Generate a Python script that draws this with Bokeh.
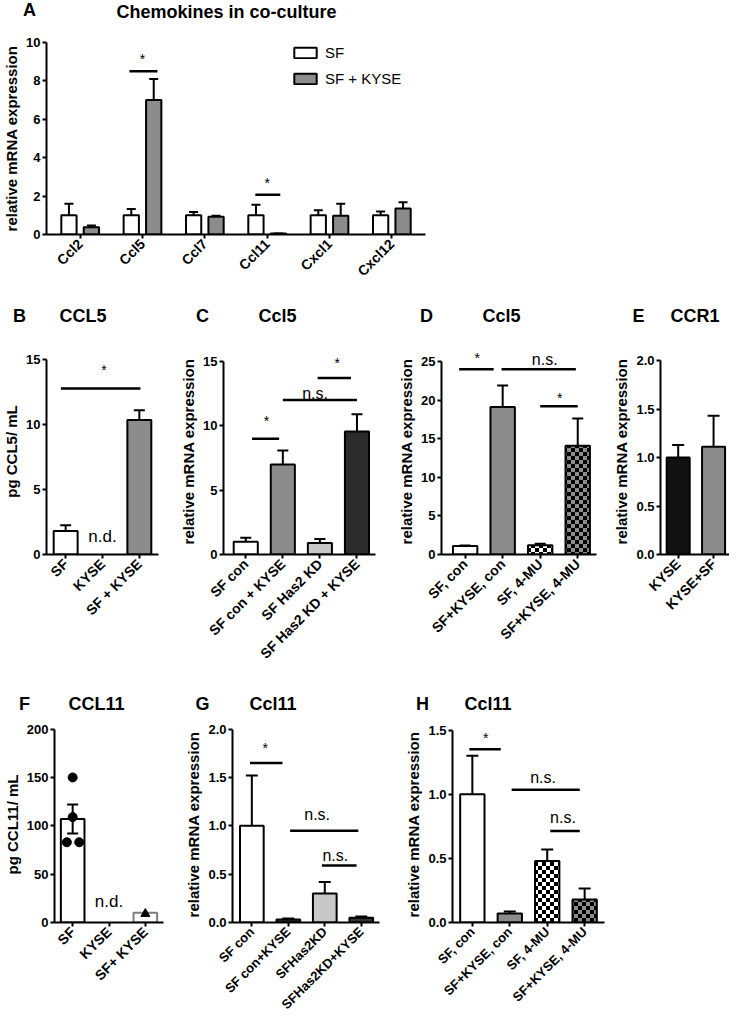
import math
import zlib
import struct
import base64
import numpy as np
from bokeh.plotting import figure
from bokeh.layouts import row, column
from bokeh.models import (Range1d, FixedTicker, Whisker, TeeHead, Label, Legend, LegendItem,
                          ColumnDataSource, ImageURLTexture, NumeralTickFormatter)
from bokeh.core.properties import field
from bokeh.embed import file_html
from bokeh.resources import INLINE

FONT = "Liberation Sans"

# ---------------- data ----------------
panel_letters = ["A", "B", "C", "D", "E", "F", "G", "H"]
panel_titles = ["Chemokines in co-culture", "CCL5", "Ccl5", "Ccl5", "CCR1", "CCL11", "Ccl11", "Ccl11"]

# A: chemokines in co-culture
A_genes = ["Ccl2", "Ccl5", "Ccl7", "Ccl11", "Cxcl1", "Cxcl12"]
A_series = ["SF", "SF + KYSE"]
A_sf_mean = [1.0, 1.0, 1.0, 1.0, 1.0, 1.0]
A_sf_sem = [0.6, 0.33, 0.17, 0.55, 0.26, 0.2]
A_kyse_mean = [0.38, 7.0, 0.93, 0.05, 0.98, 1.35]
A_kyse_sem = [0.09, 1.1, 0.05, 0.0, 0.62, 0.33]
A_sig_x0 = [0.79, 2.81]
A_sig_x1 = [1.24, 3.21]
A_sig_y = [8.5, 2.07]
A_sig_text = ["*", "*"]
A_sig_tx = [1.0, 3.0]
A_sig_ty = [9.3, 2.85]

# B: CCL5 protein
B_groups = ["SF", "KYSE", "SF + KYSE"]
B_mean = [1.8, float("nan"), 10.35]
B_sem = [0.45, float("nan"), 0.75]
B_sig_x0 = [-0.13]
B_sig_x1 = [2.03]
B_sig_y = [12.77]
B_sig_text = ["*"]
B_sig_tx = [1.04]
B_sig_ty = [14.4]
B_nd_x = [1.0]
B_nd_y = [1.4]

# C: Ccl5 mRNA, Has2 KD
C_groups = ["SF con", "SF con + KYSE", "SF Has2 KD", "SF Has2 KD + KYSE"]
C_mean = [1.0, 7.0, 0.9, 9.55]
C_sem = [0.3, 1.08, 0.3, 1.35]
C_sig_x0 = [0.17, 1.0, 1.94]
C_sig_x1 = [0.9, 3.0, 2.84]
C_sig_y = [9.0, 12.0, 13.7]
C_sig_text = ["*", "n.s.", "*"]
C_sig_tx = [0.56, 1.87, 2.47]
C_sig_ty = [10.6, 12.5, 15.1]

# D: Ccl5 mRNA, 4-MU
D_groups = ["SF, con", "SF+KYSE, con", "SF, 4-MU", "SF+KYSE, 4-MU"]
D_mean = [1.1, 19.1, 1.2, 14.1]
D_sem = [0.05, 2.8, 0.2, 3.5]
D_sig_x0 = [-0.16, 0.97, 2.0]
D_sig_x1 = [0.76, 2.95, 3.0]
D_sig_y = [24.0, 24.0, 19.2]
D_sig_text = ["*", "n.s.", "*"]
D_sig_tx = [0.32, 2.12, 2.52]
D_sig_ty = [25.8, 25.3, 20.6]

# E: CCR1
E_groups = ["KYSE", "KYSE+SF"]
E_mean = [1.0, 1.11]
E_sem = [0.13, 0.32]

# F: CCL11 protein
F_groups = ["SF", "KYSE", "SF+ KYSE"]
F_mean = [107.0, float("nan"), 10.0]
F_sem = [15.0, float("nan"), float("nan")]
F_pts_sf = [150.0, 109.0, 83.0, 83.0]
F_pts_sf_jitter = [0.0, 0.0, -0.16, 0.18]
F_pts_kyse = [9.0]
F_nd_x = [1.0]
F_nd_y = [22.0]

# G: Ccl11 mRNA, Has2 KD
G_groups = ["SF con", "SF con+KYSE", "SFHas2KD", "SFHas2KD+KYSE"]
G_mean = [1.0, 0.03, 0.3, 0.05]
G_sem = [0.52, 0.012, 0.12, 0.012]
G_sig_x0 = [-0.05, 1.05, 1.92]
G_sig_x1 = [0.84, 2.92, 2.87]
G_sig_y = [1.65, 0.95, 0.59]
G_sig_text = ["*", "n.s.", "n.s."]
G_sig_tx = [0.37, 1.79, 2.29]
G_sig_ty = [1.84, 1.12, 0.69]

# H: Ccl11 mRNA, 4-MU
H_groups = ["SF, con", "SF+KYSE, con", "SF, 4-MU", "SF+KYSE, 4-MU"]
H_mean = [1.0, 0.07, 0.48, 0.18]
H_sem = [0.3, 0.015, 0.09, 0.085]
H_sig_x0 = [-0.08, 1.05, 2.08]
H_sig_x1 = [0.76, 2.87, 2.87]
H_sig_y = [1.35, 1.035, 0.714]
H_sig_text = ["*", "n.s.", "n.s."]
H_sig_tx = [0.36, 1.89, 2.42]
H_sig_ty = [1.46, 1.13, 0.82]

# ---------------- styles ----------------
GRAY = "#8c8c8c"
LIGHT = "#c8c8c8"
DARK = "#2b2b2b"


def checker_png(cell=4):
    """Tiny transparent/black checkerboard tile as a PNG data URL."""
    n = 2 * cell
    raw = b""
    for yy in range(n):
        line = bytearray([0])
        for xx in range(n):
            on = ((xx // cell) + (yy // cell)) % 2 == 0
            line += bytes([0, 0, 0, 255]) if on else bytes([0, 0, 0, 0])
        raw += bytes(line)

    def chunk(t, d):
        c = struct.pack(">I", len(d)) + t + d
        return c + struct.pack(">I", zlib.crc32(t + d) & 0xffffffff)

    png = (b"\x89PNG\r\n\x1a\n"
           + chunk(b"IHDR", struct.pack(">IIBBBBB", n, n, 8, 6, 0, 0, 0))
           + chunk(b"IDAT", zlib.compress(raw))
           + chunk(b"IEND", b""))
    return "data:image/png;base64," + base64.b64encode(png).decode()


CHECKER = ImageURLTexture(url=checker_png(4))


def base_fig(w, h, l, r, t, b, labels, pad_l, pad_r, ytop, ymax, ystep, ylabel, yfmt,
             xfont="14px"):
    n = len(labels)
    p = figure(width=w, height=h, x_range=Range1d(-pad_l, n - 1 + pad_r),
               y_range=Range1d(0, ytop), output_backend="svg", toolbar_location=None,
               title=None, min_border_left=l, min_border_right=r, min_border_top=t,
               min_border_bottom=b)
    p.grid.visible = False
    p.outline_line_color = None
    p.background_fill_color = "white"
    p.border_fill_color = "white"
    nt = int(round(ymax / ystep))
    p.yaxis.ticker = FixedTicker(ticks=[round(k * ystep, 6) for k in range(nt + 1)])
    p.yaxis.formatter = NumeralTickFormatter(format=yfmt)
    p.yaxis.bounds = (0, ymax)
    p.xaxis.ticker = FixedTicker(ticks=list(range(n)))
    p.xaxis.major_label_overrides = {i: lab for i, lab in enumerate(labels)}
    p.xaxis.major_label_orientation = math.pi / 4
    for ax in (p.xaxis[0], p.yaxis[0]):
        ax.axis_line_width = 2
        ax.axis_line_color = "black"
        ax.major_tick_line_width = 2
        ax.major_tick_line_color = "black"
        ax.major_tick_out = 4
        ax.major_tick_in = 0
        ax.minor_tick_line_color = None
        ax.major_label_text_font = FONT
        ax.major_label_text_font_style = "bold"
        ax.major_label_text_color = "black"
    p.yaxis.major_label_text_font_size = "13px"
    p.xaxis.major_label_text_font_size = xfont
    p.yaxis.major_label_standoff = 2
    p.xaxis.major_label_standoff = 3
    p.yaxis.axis_label = ylabel
    p.yaxis.axis_label_text_font = FONT
    p.yaxis.axis_label_text_font_style = "bold"
    p.yaxis.axis_label_text_font_size = "15px"
    p.yaxis.axis_label_text_color = "black"
    p.yaxis.axis_label_standoff = 3
    return p


def strip(w, h, items):
    """Row of panel letters / titles; items: (text, x, y, align)."""
    s = figure(width=w, height=h, x_range=Range1d(0, w), y_range=Range1d(0, h),
               output_backend="svg", toolbar_location=None, title=None,
               x_axis_type=None, y_axis_type=None,
               min_border_left=0, min_border_right=0, min_border_top=0, min_border_bottom=0)
    s.outline_line_color = None
    s.background_fill_color = "white"
    s.border_fill_color = "white"
    for text, x, y, align in items:
        s.add_layout(Label(x=x, y=y, x_units="screen", y_units="screen", text=text,
                           text_font=FONT, text_font_style="bold", text_font_size="18px",
                           text_align=align, text_baseline="middle", text_color="black"))
    return s


def whiskers(p, xs, means, sems, cap, both=False):
    ok = [i for i in range(len(means)) if not (math.isnan(means[i]) or math.isnan(sems[i]))]
    src = ColumnDataSource(dict(
        base=[float(xs[i]) for i in ok],
        lower=[means[i] - (sems[i] if both else 0.0) for i in ok],
        upper=[means[i] + sems[i] for i in ok]))
    w = Whisker(base="base", lower="lower", upper="upper", source=src, line_width=2,
                line_color="black", level="annotation",
                upper_head=TeeHead(size=cap, line_width=2, line_color="black"),
                lower_head=TeeHead(size=cap, line_width=2, line_color="black") if both else None)
    p.add_layout(w)


def bars(p, means, sems, fills, lines=None, hatches=None, width=0.65, cap=11, both=False):
    n = len(means)
    xs = list(range(n))
    src = ColumnDataSource(dict(x=xs, top=means, fill=fills,
                                line=lines or ["black"] * n,
                                hatch=hatches or [" "] * n))
    p.vbar(x="x", top="top", bottom=0, width=width, source=src,
           fill_color="fill", line_color="line", line_width=2,
           hatch_pattern=field("hatch"), hatch_color="black", hatch_scale=8,
           hatch_alpha=1.0, hatch_extra={"checker": CHECKER})
    whiskers(p, xs, means, sems, cap, both)


def sig(p, x0, x1, y, texts, tx, ty):
    p.segment(x0=x0, y0=y, x1=x1, y1=y, line_width=2.5, line_color="black")
    for t, a, b in zip(texts, tx, ty):
        star = t == "*"
        p.add_layout(Label(x=a, y=b, text=t, text_font=FONT,
                           text_font_size="14px" if star else "16px",
                           text_align="center", text_baseline="middle",
                           y_offset=-3 if star else 0, text_color="black"))


def nd(p, xs, ys, size="17px"):
    for a, b in zip(xs, ys):
        p.add_layout(Label(x=a, y=b, text="n.d.", text_font=FONT, text_font_size=size,
                           text_align="center", text_baseline="middle", text_color="black"))


L = panel_letters
T = panel_titles

# ---------------- row 1 ----------------
s1 = strip(729, 28, [(L[0], 29, 19, "center"), (T[0], 226, 17, "center")])

pA = base_fig(432, 259, 41, 7, 14, 52, A_genes, 0.54, 0.54, 10, 10, 2,
              "relative mRNA expression", "0")
idx = np.arange(len(A_genes))
xs_sf = idx - 0.18
xs_ky = idx + 0.18
r_sf = pA.vbar(x=xs_sf, top=A_sf_mean, bottom=0, width=0.245, fill_color="white",
               line_color="black", line_width=2)
r_ky = pA.vbar(x=xs_ky, top=A_kyse_mean, bottom=0, width=0.245, fill_color=GRAY,
               line_color="black", line_width=2)
whiskers(pA, xs_sf, A_sf_mean, A_sf_sem, 9)
whiskers(pA, xs_ky, A_kyse_mean, A_kyse_sem, 9)
sig(pA, A_sig_x0, A_sig_x1, A_sig_y, A_sig_text, A_sig_tx, A_sig_ty)
legA = Legend(items=[LegendItem(label=A_series[0], renderers=[r_sf]),
                     LegendItem(label=A_series[1], renderers=[r_ky])],
              location=(245, 147), glyph_width=28, glyph_height=13, label_height=13,
              spacing=9, padding=0, margin=0, border_line_color=None,
              background_fill_alpha=0, label_text_font=FONT, label_text_font_size="15px",
              label_standoff=6, label_text_color="black")
pA.add_layout(legA)

# ---------------- row 2 ----------------
s2 = strip(729, 41, [(L[1], 19, 13, "center"), (T[1], 59, 13, "left"),
                     (L[2], 202, 13, "center"), (T[2], 258, 13, "left"),
                     (L[3], 426, 13, "center"), (T[3], 482, 13, "left"),
                     (L[4], 638, 13, "center"), (T[4], 670, 13, "left")])

pB = base_fig(177, 364, 41, 19, 20, 138, B_groups, 0.52, 0.52, 15.85, 15, 5,
              "pg CCL5/ mL", "0")
bars(pB, B_mean, B_sem, ["white", "white", GRAY], cap=11)
sig(pB, B_sig_x0, B_sig_x1, B_sig_y, B_sig_text, B_sig_tx, B_sig_ty)
nd(pB, B_nd_x, B_nd_y)

pC = base_fig(218, 364, 40, 20, 20, 138, C_groups, 0.6, 0.5, 16.0, 15, 5,
              "relative mRNA expression", "0")
bars(pC, C_mean, C_sem, ["white", GRAY, LIGHT, DARK], cap=11)
sig(pC, C_sig_x0, C_sig_x1, C_sig_y, C_sig_text, C_sig_tx, C_sig_ty)

pD = base_fig(215, 364, 44, 14, 20, 138, D_groups, 0.63, 0.5, 26.68, 25, 5,
              "relative mRNA expression", "0")
bars(pD, D_mean, D_sem, ["white", GRAY, "white", GRAY],
     hatches=[" ", " ", "checker", "checker"], cap=11)
sig(pD, D_sig_x0, D_sig_x1, D_sig_y, D_sig_text, D_sig_tx, D_sig_ty)

pE = base_fig(119, 364, 44, 0, 20, 138, E_groups, 0.5, 0.45, 2.124, 2.0, 0.5,
              "relative mRNA expression", "0.0")
bars(pE, E_mean, E_sem, ["#111111", GRAY], cap=12)

# ---------------- row 3 ----------------
s3 = strip(729, 22, [(L[5], 24, 11, "center"), (T[5], 68, 11, "left"),
                     (L[6], 202, 11, "center"), (T[6], 249, 11, "left"),
                     (L[7], 422, 11, "center"), (T[7], 464, 11, "left")])

pF = base_fig(182, 306, 48, 19, 12, 98, F_groups, 0.5, 0.5, 202.7, 200, 50,
              "pg CCL11/ mL", "0")
bars(pF, F_mean, F_sem, ["white", "white", "white"], lines=["black", "black", "#7f7f7f"],
     cap=11, both=True)
pF.scatter(x=[0 + j for j in F_pts_sf_jitter], y=F_pts_sf, marker="circle", size=9,
           color="black")
pF.scatter(x=[2] * len(F_pts_kyse), y=F_pts_kyse, marker="triangle", size=9, color="black")
nd(pF, F_nd_x, F_nd_y)

pG = base_fig(220, 306, 45, 23, 12, 98, G_groups, 0.53, 0.5, 2.028, 2.0, 0.5,
              "relative mRNA expression", "0.0", xfont="13px")
bars(pG, G_mean, G_sem, ["white", "#333333", LIGHT, "#333333"], cap=12)
sig(pG, G_sig_x0, G_sig_x1, G_sig_y, G_sig_text, G_sig_tx, G_sig_ty)

pH = base_fig(220, 306, 48, 18, 12, 98, H_groups, 0.53, 0.53, 1.528, 1.5, 0.5,
              "relative mRNA expression", "0.0", xfont="13px")
bars(pH, H_mean, H_sem, ["white", GRAY, "white", GRAY],
     hatches=[" ", " ", "checker", "checker"], cap=12)
sig(pH, H_sig_x0, H_sig_x1, H_sig_y, H_sig_text, H_sig_tx, H_sig_ty)

layout = column(s1, row(pA), s2, row(pB, pC, pD, pE), s3, row(pF, pG, pH))

open("out.html", "w").write(file_html(layout, INLINE))
